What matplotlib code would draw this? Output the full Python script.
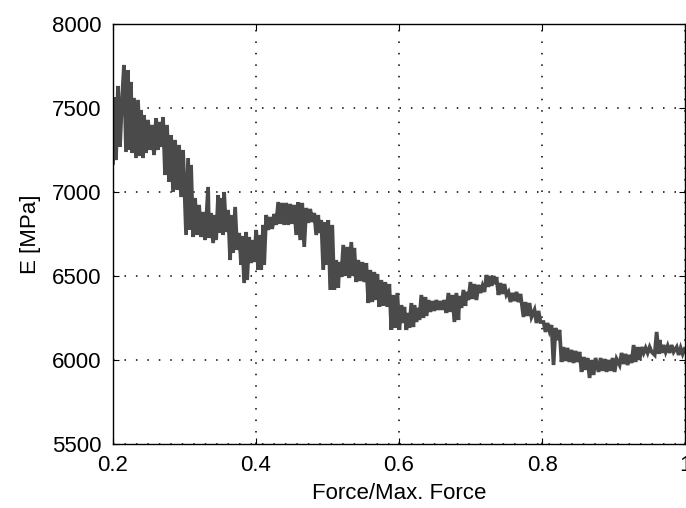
import matplotlib.pyplot as plt

plt.rcParams['font.family'] = ['Liberation Sans', 'DejaVu Sans']

force_ratio = [
    0.2000, 0.2014, 0.2042, 0.2070, 0.2098, 0.2126, 0.2154, 0.2182, 0.2210, 0.2224,
    0.2252, 0.2266, 0.2294, 0.2322, 0.2350, 0.2378, 0.2392, 0.2420, 0.2434, 0.2462,
    0.2490, 0.2518, 0.2546, 0.2574, 0.2602, 0.2630, 0.2644, 0.2672, 0.2700, 0.2728,
    0.2756, 0.2784, 0.2812, 0.2840, 0.2868, 0.2896, 0.2924, 0.2952, 0.2980, 0.3022,
    0.3050, 0.3078, 0.3092, 0.3120, 0.3148, 0.3176, 0.3204, 0.3232, 0.3260, 0.3288,
    0.3330, 0.3344, 0.3372, 0.3400, 0.3428, 0.3442, 0.3470, 0.3498, 0.3512, 0.3540,
    0.3554, 0.3582, 0.3610, 0.3638, 0.3652, 0.3680, 0.3708, 0.3736, 0.3764, 0.3792,
    0.3806, 0.3834, 0.3862, 0.3876, 0.3904, 0.3932, 0.3960, 0.3974, 0.4002, 0.4030,
    0.4044, 0.4072, 0.4100, 0.4114, 0.4142, 0.4170, 0.4198, 0.4226, 0.4254, 0.4282,
    0.4310, 0.4338, 0.4366, 0.4394, 0.4422, 0.4450, 0.4478, 0.4506, 0.4534, 0.4562,
    0.4590, 0.4618, 0.4646, 0.4674, 0.4702, 0.4730, 0.4758, 0.4786, 0.4814, 0.4842,
    0.4870, 0.4884, 0.4912, 0.4940, 0.4968, 0.4982, 0.5010, 0.5038, 0.5066, 0.5094,
    0.5122, 0.5150, 0.5164, 0.5192, 0.5220, 0.5248, 0.5276, 0.5304, 0.5332, 0.5360,
    0.5374, 0.5402, 0.5430, 0.5458, 0.5486, 0.5514, 0.5542, 0.5570, 0.5598, 0.5626,
    0.5654, 0.5682, 0.5696, 0.5724, 0.5752, 0.5780, 0.5808, 0.5836, 0.5864, 0.5892,
    0.5920, 0.5948, 0.5976, 0.6004, 0.6032, 0.6060, 0.6074, 0.6102, 0.6130, 0.6144,
    0.6172, 0.6200, 0.6214, 0.6242, 0.6270, 0.6284, 0.6312, 0.6340, 0.6368, 0.6382,
    0.6410, 0.6438, 0.6466, 0.6494, 0.6522, 0.6550, 0.6578, 0.6606, 0.6634, 0.6662,
    0.6690, 0.6718, 0.6746, 0.6774, 0.6802, 0.6830, 0.6844, 0.6872, 0.6900, 0.6928,
    0.6942, 0.6970, 0.6998, 0.7026, 0.7054, 0.7082, 0.7110, 0.7138, 0.7166, 0.7194,
    0.7222, 0.7250, 0.7278, 0.7292, 0.7320, 0.7348, 0.7362, 0.7390, 0.7418, 0.7446,
    0.7474, 0.7502, 0.7530, 0.7558, 0.7586, 0.7614, 0.7642, 0.7670, 0.7698, 0.7740,
    0.7768, 0.7796, 0.7824, 0.7852, 0.7894, 0.7922, 0.7950, 0.7978, 0.8020, 0.8048,
    0.8076, 0.8104, 0.8132, 0.8160, 0.8188, 0.8216, 0.8244, 0.8272, 0.8300, 0.8328,
    0.8356, 0.8384, 0.8412, 0.8440, 0.8468, 0.8496, 0.8524, 0.8552, 0.8580, 0.8608,
    0.8636, 0.8664, 0.8692, 0.8720, 0.8748, 0.8790, 0.8818, 0.8846, 0.8874, 0.8902,
    0.8930, 0.8958, 0.8986, 0.9014, 0.9042, 0.9084, 0.9112, 0.9140, 0.9168, 0.9196,
    0.9224, 0.9252, 0.9280, 0.9308, 0.9336, 0.9364, 0.9392, 0.9420, 0.9448, 0.9476,
    0.9504, 0.9532, 0.9574, 0.9602, 0.9630, 0.9644, 0.9672, 0.9700, 0.9728, 0.9756,
    0.9784, 0.9812, 0.9840, 0.9882, 0.9910, 0.9938, 0.9966, 0.9994,
]

modulus = [
    7173, 7565, 7190, 7631, 7268, 7548, 7756, 7238, 7726, 7250,
    7655, 7232, 7560, 7202, 7548, 7214, 7488, 7202, 7458, 7232,
    7429, 7250, 7399, 7220, 7440, 7250, 7417, 7268, 7446, 7101,
    7399, 7060, 7339, 7000, 7310, 7012, 7280, 6970, 7250, 6744,
    7202, 6774, 7161, 6732, 6964, 6744, 6923, 6732, 6881, 6714,
    7030, 6726, 6875, 6696, 6863, 6714, 6982, 6756, 6964, 6744,
    7000, 6762, 6893, 6595, 6863, 6637, 6911, 6655, 6756, 6566,
    6738, 6458, 6762, 6476, 6732, 6577, 6714, 6583, 6774, 6536,
    6744, 6536, 6804, 6566, 6863, 6774, 6851, 6780, 6869, 6804,
    6940, 6810, 6935, 6804, 6935, 6804, 6929, 6810, 6923, 6744,
    6940, 6714, 6935, 6673, 6905, 6816, 6899, 6821, 6875, 6744,
    6863, 6756, 6833, 6536, 6821, 6566, 6833, 6417, 6804, 6417,
    6595, 6429, 6583, 6494, 6685, 6500, 6673, 6488, 6702, 6500,
    6667, 6464, 6595, 6470, 6583, 6464, 6577, 6339, 6536, 6345,
    6524, 6357, 6512, 6316, 6476, 6322, 6464, 6316, 6452, 6179,
    6387, 6191, 6399, 6179, 6327, 6220, 6316, 6179, 6280, 6191,
    6339, 6196, 6327, 6226, 6310, 6238, 6387, 6250, 6375, 6262,
    6357, 6286, 6351, 6292, 6357, 6298, 6351, 6298, 6357, 6280,
    6399, 6286, 6387, 6226, 6399, 6238, 6381, 6310, 6417, 6322,
    6405, 6357, 6464, 6363, 6452, 6357, 6447, 6399, 6441, 6405,
    6506, 6435, 6500, 6441, 6500, 6452, 6494, 6387, 6458, 6393,
    6452, 6387, 6405, 6345, 6399, 6351, 6405, 6345, 6393, 6256,
    6345, 6262, 6339, 6256, 6298, 6220, 6292, 6226, 6226, 6167,
    6220, 6173, 6208, 5970, 6191, 6119, 6179, 5988, 6077, 5994,
    6072, 5988, 6060, 5982, 6054, 5988, 6048, 5929, 6018, 5941,
    6012, 5893, 6000, 5911, 6012, 5929, 6012, 5935, 6006, 5929,
    6000, 5935, 6012, 5929, 6006, 5970, 6042, 5976, 6036, 5970,
    6030, 5982, 6089, 5988, 6077, 6000, 6077, 6042, 6072, 6042,
    6077, 6048, 6030, 6167, 6036, 6119, 6042, 6089, 6048, 6083,
    6042, 6089, 6048, 6077, 6030, 6072, 6036, 6066,
]

x_ticks = [0.2, 0.4, 0.6, 0.8, 1.0]
x_labels = ['0.2', '0.4', '0.6', '0.8', '1']
y_ticks = [5500, 6000, 6500, 7000, 7500, 8000]

fig = plt.figure(figsize=(6.86, 5.08), dpi=100)
ax = fig.add_axes([0.1647, 0.126, 0.834, 0.8268])

ax.plot(force_ratio, modulus, color='#4a4a4a', linewidth=2.7, solid_joinstyle='miter')

ax.set_xlim(0.2, 1.0)
ax.set_ylim(5500, 8000)
ax.set_xticks(x_ticks)
ax.set_xticklabels(x_labels)
ax.set_yticks(y_ticks)
ax.grid(True, color='black', linestyle=(0, (1, 6.5)), linewidth=1.1)
ax.tick_params(direction='in', length=4, width=0.8, top=True, right=True,
               labelsize=16, pad=8, colors='black')
for s in ax.spines.values():
    s.set_linewidth(1.0)

ax.set_xlabel('Force/Max. Force', fontsize=16, labelpad=5)
ax.set_ylabel('E [MPa]', fontsize=16, labelpad=8)

fig.savefig('out.png', dpi=100)
